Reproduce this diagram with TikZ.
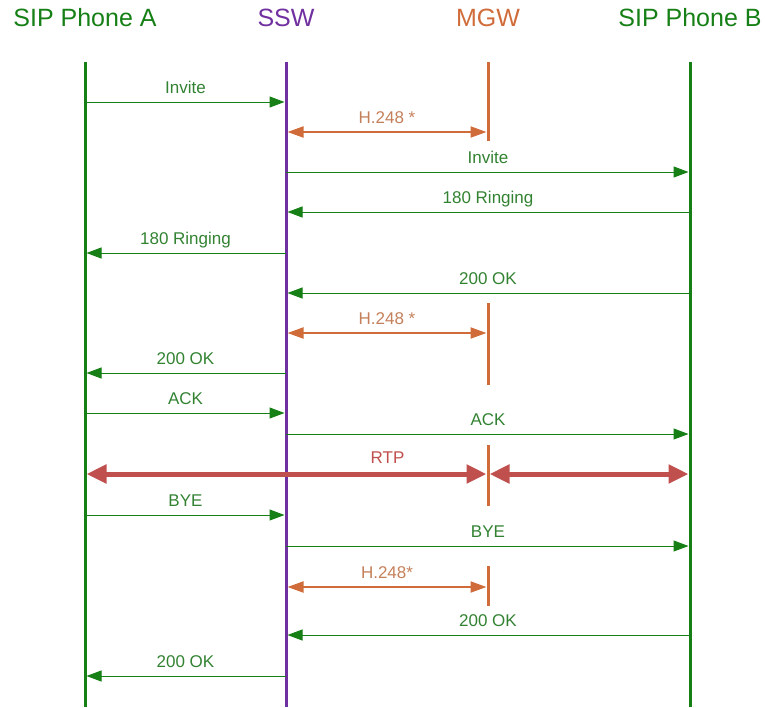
\documentclass[tikz,border=0pt]{standalone}
\usepackage{fontspec}
\setmainfont{Liberation Sans}
\usetikzlibrary{arrows.meta}
\definecolor{phonegreen}{RGB}{22,128,22}
\definecolor{msggreen}{RGB}{50,130,50}
\definecolor{sswpurple}{RGB}{112,48,160}
\definecolor{mgworange}{RGB}{208,108,58}
\definecolor{htext}{RGB}{196,128,90}
\definecolor{rtpred}{RGB}{192,80,77}
\tikzset{
	header/.style={font=\fontsize{25}{28}\selectfont},
	lifeline/.style={line width=3pt},
	msg/.style={phonegreen, line width=1pt, shorten >=1.5pt, -{Triangle[length=15pt,width=11pt]}},
	msglabel/.style={msggreen, font=\fontsize{17}{19}\selectfont, anchor=base, yshift=9pt},
	hmsg/.style={mgworange, line width=2pt, shorten <=1.5pt, shorten >=1.5pt, {Triangle[length=16pt,width=11pt]}-{Triangle[length=16pt,width=11pt]}},
	rtp/.style={rtpred, line width=5pt, shorten <=1.5pt, shorten >=1.5pt, {Triangle[length=20pt,width=18pt]}-{Triangle[length=20pt,width=18pt]}},
}
\begin{document}
\begin{tikzpicture}[x=1pt, y=-1pt]
			\useasboundingbox (0,0) rectangle (765,707);
			% entities
			\node[header, phonegreen] (hA) at (85,18) {SIP Phone A};
			\node[header, sswpurple] (hS) at (286,18) {SSW};
			\node[header, mgworange] (hM) at (488,18) {MGW};
			\node[header, phonegreen] (hB) at (690,18) {SIP Phone B};
			\coordinate (A) at (85,62);
			\coordinate (S) at (286,62);
			\coordinate (M) at (488,62);
			\coordinate (B) at (690,62);
			% lifelines
			\draw[lifeline, phonegreen] (A) -- (A |- 0,707);
			\draw[lifeline, sswpurple] (S) -- (S |- 0,707);
			\draw[lifeline, phonegreen] (B) -- (B |- 0,707);
			\foreach \t\b in {62/141,303/385,445/506,566/606}{
				\draw[lifeline, mgworange] (M |- 0,\t) -- (M |- 0,\b);
			}
			% signalling
			\foreach \y\f\g\txt in {102/A/S/Invite, 172/S/B/Invite, 212/B/S/180 Ringing,
				253/S/A/180 Ringing, 293/B/S/200 OK, 373/S/A/200 OK, 413/A/S/ACK,
				434/S/B/ACK, 515/A/S/BYE, 546/S/B/BYE, 635/B/S/200 OK, 676/S/A/200 OK}{
				\draw[msg] (\f |- 0,\y) -- (\g |- 0,\y) node[midway, msglabel] {\txt};
			}
			\foreach \y\txt in {132/H.248 *, 333/H.248 *, 587/H.248*}{
				\draw[hmsg] (S |- 0,\y) -- (M |- 0,\y) node[midway, msglabel, htext] {\txt};
			}
			% media
			\draw[rtp] (A |- 0,474) -- (M |- 0,474);
			\draw[rtp] (M |- 0,474) -- (B |- 0,474);
			\path (A |- 0,474) -- (B |- 0,474) node[midway, msglabel, rtpred, yshift=2pt] {RTP};
		\end{tikzpicture}
\end{document}
